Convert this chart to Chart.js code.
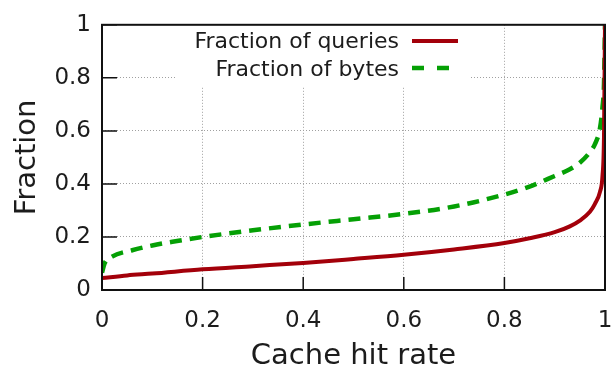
<!DOCTYPE html>
<html>
<head>
<meta charset="utf-8">
<script src="https://cdn.jsdelivr.net/npm/chart.js@4/dist/chart.umd.min.js"></script>
<style>
  html, body { margin: 0; padding: 0; background: #fff; }
  #c { display: block; }
</style>
</head>
<body>
<canvas id="c" width="615" height="379"></canvas>
<script>
/* --- donnees --- */
const axisTicks = [0, 0.2, 0.4, 0.6, 0.8, 1];

const queriesX = [0, 0.05, 0.1, 0.2, 0.3, 0.4, 0.5, 0.6, 0.7, 0.8, 0.85, 0.9, 0.93, 0.95, 0.97, 0.98, 0.99, 0.995, 0.998, 1.0];
const queriesY = [0.045, 0.055, 0.062, 0.078, 0.09, 0.102, 0.117, 0.133, 0.153, 0.177, 0.195, 0.218, 0.24, 0.262, 0.295, 0.325, 0.37, 0.43, 0.58, 1.0];

const bytesX = [0, 0.005, 0.02, 0.06, 0.1, 0.14, 0.2, 0.3, 0.4, 0.5, 0.6, 0.7, 0.8, 0.85, 0.9, 0.93, 0.95, 0.97, 0.98, 0.99, 0.995, 0.998, 1.0];
const bytesY = [0.065, 0.1, 0.126, 0.15, 0.168, 0.182, 0.2, 0.225, 0.247, 0.267, 0.287, 0.315, 0.36, 0.39, 0.43, 0.455, 0.48, 0.52, 0.55, 0.61, 0.69, 0.78, 1.0];

const seriesNames = ['Fraction of queries', 'Fraction of bytes'];
const RED = '#a3000a', GREEN = '#05a005';
const FONT = "'DejaVu Sans', sans-serif";

const pts = (xs, ys) => xs.map((x, i) => ({ x, y: ys[i] }));
const fmt = v => String(Math.round(v * 10) / 10);

/* cadre, graduations interieures et legende facon gnuplot */
const gnuFrame = {
  id: 'gnuFrame',
  beforeDatasetsDraw(chart) {
    const ctx = chart.ctx;
    // fond blanc de la legende (masque la grille)
    ctx.save();
    ctx.fillStyle = '#fff';
    ctx.fillRect(176, 21, 294, 65);
    ctx.font = `22px ${FONT}`;
    ctx.fillStyle = '#1c1c1c';
    ctx.textAlign = 'right';
    ctx.textBaseline = 'middle';
    ctx.fillText(seriesNames[0], 399, 42);
    ctx.fillText(seriesNames[1], 399, 70);
    ctx.lineWidth = 4;
    ctx.strokeStyle = RED;
    ctx.beginPath(); ctx.moveTo(412, 41); ctx.lineTo(458, 41); ctx.stroke();
    ctx.lineWidth = 4.5;
    ctx.strokeStyle = GREEN;
    ctx.setLineDash([12, 13]);
    ctx.beginPath(); ctx.moveTo(412, 68); ctx.lineTo(458, 68); ctx.stroke();
    ctx.restore();
  },
  afterDatasetsDraw(chart) {
    const ctx = chart.ctx, a = chart.chartArea;
    const xs = chart.scales.x, ys = chart.scales.y;
    ctx.save();
    ctx.strokeStyle = '#111';
    ctx.lineWidth = 2;
    ctx.strokeRect(a.left, a.top, a.right - a.left, a.bottom - a.top);
    ctx.lineWidth = 1.5;
    ctx.beginPath();
    axisTicks.forEach(t => {
      const px = xs.getPixelForValue(t);
      ctx.moveTo(px, a.bottom); ctx.lineTo(px, a.bottom - 13);
      const py = ys.getPixelForValue(t);
      ctx.moveTo(a.left, py); ctx.lineTo(a.left + 15, py);
    });
    ctx.stroke();
    ctx.restore();
  }
};

new Chart(document.getElementById('c'), {
  type: 'line',
  data: {
    datasets: [
      {
        label: seriesNames[0],
        data: pts(queriesX, queriesY),
        borderColor: RED,
        borderWidth: 4,
        pointRadius: 0,
        cubicInterpolationMode: 'monotone'
      },
      {
        label: seriesNames[1],
        data: pts(bytesX, bytesY),
        borderColor: GREEN,
        borderWidth: 4.5,
        borderDash: [12, 8],
        pointRadius: 0,
        cubicInterpolationMode: 'monotone'
      }
    ]
  },
  options: {
    responsive: false,
    animation: false,
    layout: { padding: { top: 13, right: 10, left: 0, bottom: 0 } },
    plugins: { legend: { display: false }, tooltip: { enabled: false } },
    scales: {
      x: {
        type: 'linear', min: 0, max: 1,
        afterFit: s => { s.height = 89; s.paddingLeft = 0; s.paddingRight = 0; },
        ticks: { stepSize: 0.2, callback: fmt, color: '#1c1c1c', padding: 17, maxRotation: 0,
                 font: { family: FONT, size: 23 } },
        grid: { color: '#a0a0a0', lineWidth: 1, drawTicks: false },
        border: { display: false, dash: [1, 2] },
        title: { display: true, text: 'Cache hit rate', color: '#1c1c1c',
                 font: { family: FONT, size: 29 }, padding: { top: 0, bottom: 5 } }
      },
      y: {
        min: 0, max: 1,
        afterFit: s => { s.width = 102; },
        ticks: { stepSize: 0.2, callback: fmt, color: '#1c1c1c', padding: 11,
                 font: { family: FONT, size: 23 } },
        grid: { color: '#a0a0a0', lineWidth: 1, drawTicks: false },
        border: { display: false, dash: [1, 2] },
        title: { display: true, text: 'Fraction', color: '#1c1c1c',
                 font: { family: FONT, size: 29 }, padding: { top: 10, bottom: 0 } }
      }
    }
  },
  plugins: [gnuFrame]
});
</script>
</body>
</html>
